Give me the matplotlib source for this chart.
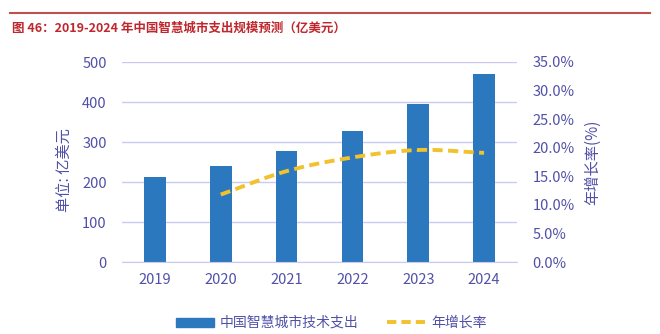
import numpy as np
import matplotlib
matplotlib.use("Agg")
import matplotlib.pyplot as plt
from matplotlib.lines import Line2D

plt.rcParams['font.family'] = ['Noto Sans CJK SC', 'DejaVu Sans']

years = ["2019", "2020", "2021", "2022", "2023", "2024"]
spend = [213, 239, 277, 328, 394, 470]
growth_years_idx = [1, 2, 3, 4, 5]
growth = [11.8, 15.9, 18.3, 19.6, 19.1]
left_ticks = [0, 100, 200, 300, 400, 500]
right_ticks = [0, 5, 10, 15, 20, 25, 30, 35]

title = "图 46：2019-2024 年中国智慧城市支出规模预测（亿美元）"
bar_label = "中国智慧城市技术支出"
line_label = "年增长率"
ylabel_left = "单位: 亿美元"
ylabel_right = "年增长率(%)"

txt = "#5050A8"
bar_c = "#2B78BE"
line_c = "#F2C12E"
grid_c = "#C9C9F2"

fig = plt.figure(figsize=(6.6, 3.34), dpi=100)
ax = fig.add_axes([122/660, 1-262/334, 395/660, 200/334])
x = np.arange(len(years))
ax.bar(x, spend, width=0.33, color=bar_c, zorder=2)
ax.set_xlim(-0.5, len(years)-0.5)
ax.set_ylim(0, 500)
ax.set_yticks(left_ticks)
ax.set_xticks(x)
ax.set_xticklabels(years)
ax.grid(axis='y', color=grid_c, lw=1, zorder=0)
for s in ['top', 'right', 'left']:
    ax.spines[s].set_visible(False)
ax.spines['bottom'].set_color(grid_c)
ax.tick_params(axis='both', length=0, colors=txt, labelsize=10.5)
ax.tick_params(axis='y', pad=11)
ax.tick_params(axis='x', pad=8)
ax.set_ylabel(ylabel_left, color=txt, fontsize=11)
ax.yaxis.set_label_coords(-0.125, 0.46)

ax2 = ax.twinx()
ax2.set_ylim(0, 35)
ax2.set_yticks(right_ticks)
ax2.set_yticklabels([f"{v:.1f}%" for v in right_ticks])
for s in ax2.spines.values():
    s.set_visible(False)
ax2.tick_params(axis='y', length=0, colors=txt, labelsize=10.5, pad=11)
ax2.set_ylabel(ylabel_right, color=txt, fontsize=11, labelpad=7)

# smooth curve through growth points (Catmull-Rom)
gx = np.array(growth_years_idx, dtype=float)
gy = np.array(growth, dtype=float)
px = np.concatenate([[2*gx[0]-gx[1]], gx, [2*gx[-1]-gx[-2]]])
py = np.concatenate([[2*gy[0]-gy[1]], gy, [2*gy[-1]-gy[-2]]])
sx, sy = [], []
for i in range(1, len(px)-2):
    t = np.linspace(0, 1, 20)
    p0, p1, p2, p3 = px[i-1], px[i], px[i+1], px[i+2]
    q0, q1, q2, q3 = py[i-1], py[i], py[i+1], py[i+2]
    fx = 0.5*((2*p1) + (-p0+p2)*t + (2*p0-5*p1+4*p2-p3)*t**2 + (-p0+3*p1-3*p2+p3)*t**3)
    fy = 0.5*((2*q1) + (-q0+q2)*t + (2*q0-5*q1+4*q2-q3)*t**2 + (-q0+3*q1-3*q2+q3)*t**3)
    sx.extend(fx); sy.extend(fy)
ax2.plot(sx, sy, color=line_c, lw=2.8, dashes=(2.6, 1.4), zorder=3)

# title and rule
fig.add_artist(Line2D([10/660, 650/660], [1-13/334, 1-13/334], color="#C0504D", lw=1.5))
fig.text(12/660, 1-28/334, title, color="#C0272D", fontsize=9.0, fontweight='bold', va='center', ha='left')

# legend
handles = [plt.Rectangle((0, 0), 1, 1, color=bar_c),
           Line2D([0], [0], color=line_c, lw=2.8, dashes=(2.4, 1.3))]
fig.legend(handles, [bar_label, line_label], loc='center', bbox_to_anchor=(331/660, 1-323/334),
           ncol=2, frameon=False, fontsize=10, labelcolor=txt, handlelength=2.8,
           handleheight=0.6, columnspacing=2.0, handletextpad=0.4)

fig.savefig("out.png", dpi=100)
